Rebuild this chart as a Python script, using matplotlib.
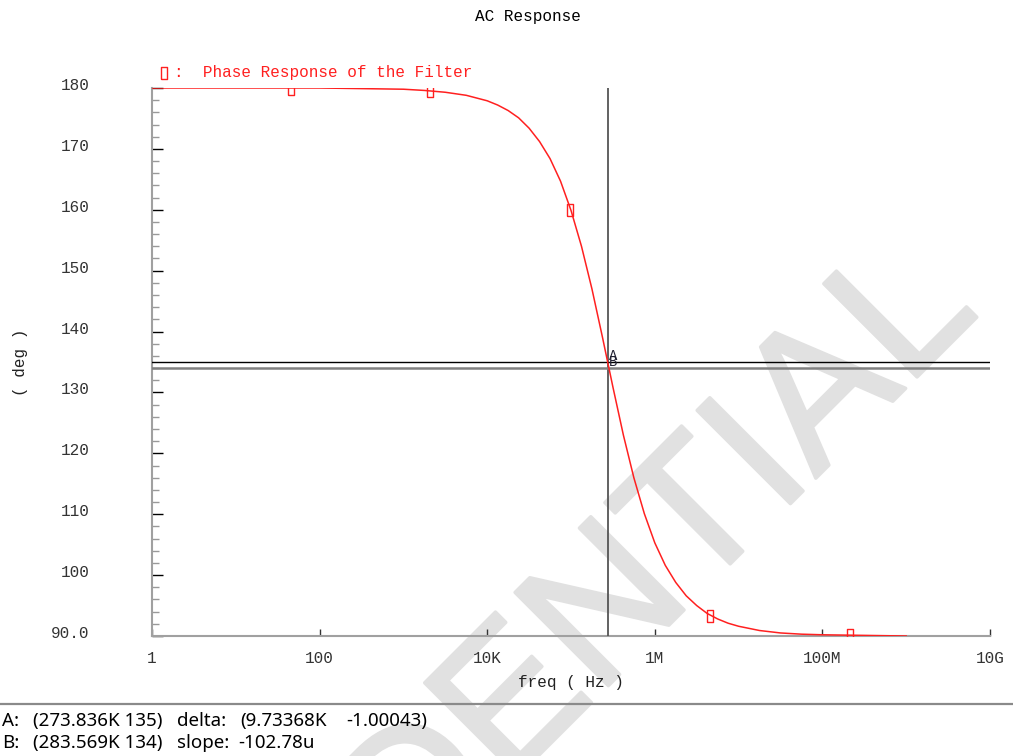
import numpy as np
import matplotlib
matplotlib.use("Agg")
import matplotlib.pyplot as plt
import matplotlib.transforms as mtransforms
import matplotlib.patheffects as pe
from matplotlib.lines import Line2D

# datos (fase del filtro en grados)
freq = [1, 10, 100, 316, 1e3, 1.778e3, 3.162e3, 5.623e3,
        1e4, 1.334e4, 1.778e4, 2.371e4, 3.162e4, 4.217e4, 5.623e4, 7.499e4,
        1e5, 1.334e5, 1.778e5, 2.371e5, 2.738e5, 3.162e5, 4.217e5, 5.623e5, 7.499e5,
        1e6, 1.334e6, 1.778e6, 2.371e6, 3.162e6, 4.217e6, 5.623e6, 7.499e6,
        1e7, 1.778e7, 3.162e7, 5.623e7, 1e8, 3.162e8, 1e9]
phase = [180.0, 180.0, 180.0, 179.9, 179.8, 179.6, 179.3, 178.8,
         177.9, 177.2, 176.3, 175.1, 173.4, 171.2, 168.4, 164.7,
         159.9, 154.0, 147.0, 139.1, 135.0, 130.9, 123.0, 116.0, 110.1,
         105.3, 101.6, 98.8, 96.6, 95.0, 93.7, 92.8, 92.1,
         91.6, 90.9, 90.5, 90.3, 90.2, 90.1, 90.0]

marker_freq = [45, 2.08e3, 9.8e4, 4.6e6, 2.14e8]
marker_phase = [179.9, 179.5, 160.0, 93.3, 90.1]

cursor_a = (273.836e3, 135.0)
cursor_b = (283.569e3, 134.0)

xticks = [1, 100, 1e4, 1e6, 1e8, 1e10]
xtick_labels = ['1', '100', '10K', '1M', '100M', '10G']
yticks = [90, 100, 110, 120, 130, 140, 150, 160, 170, 180]
ytick_labels = ['90.0', '100', '110', '120', '130', '140', '150', '160', '170', '180']

# texto de los cursores al pie
linea_a = ['A:', '(273.836K 135)', 'delta:', '(9.73368K', '-1.00043)']
linea_b = ['B:', '(283.569K 134)', 'slope:', '-102.78u']
pos_a = [2, 33, 177, 240, 346]
pos_b = [2, 33, 177, 238]

mono = 'Liberation Mono'
rojo = '#ff2020'
gris_agua = '#e1e1e1'
# marcador rectangular estrecho como en el original
rect = [(-1, -2.2), (1, -2.2), (1, 2.2), (-1, 2.2), (-1, -2.2)]

W, H = 1013, 756
fig = plt.figure(figsize=(W / 100, H / 100), dpi=100)
fig.patch.set_facecolor('white')

# marca de agua
fig.text(981 / W, 1 - 313 / H, 'CONFIDENTIAL', rotation=45, rotation_mode='anchor',
         ha='right', va='baseline', fontsize=138, color=gris_agua,
         family='Liberation Sans', zorder=-5,
         path_effects=[pe.withStroke(linewidth=2.5, foreground=gris_agua)])

ax = fig.add_axes([152 / W, 1 - 636 / H, (990 - 152) / W, (636 - 88) / H])
ax.set_facecolor('none')
ax.set_xscale('log')
ax.set_xlim(1, 1e10)
ax.set_ylim(90, 180)

ax.plot(freq, phase, color=rojo, lw=1.1, zorder=4)
ax.plot(marker_freq, marker_phase, ls='none', marker=rect, ms=8, mfc='none',
        mec=rojo, mew=1.0, zorder=5)

# cursores A y B
ax.axvline(cursor_a[0], color='#555555', lw=1.3, zorder=3)
ax.axhline(cursor_a[1], color='black', lw=1.0, zorder=3)
ax.axhline(cursor_b[1], color='#808080', lw=1.8, zorder=3)
ax.text(cursor_a[0] * 1.03, cursor_a[1] + 1.0, 'A', fontsize=10, family=mono,
        color='#223', ha='left', va='center', zorder=6)
ax.text(cursor_a[0] * 1.03, cursor_a[1], 'B', fontsize=10, family=mono,
        color='#223', ha='left', va='center', zorder=6)

for s in ['top', 'right']:
    ax.spines[s].set_visible(False)
for s in ['left', 'bottom']:
    ax.spines[s].set_color('#a0a0a0')
    ax.spines[s].set_linewidth(1.5)

ax.set_xticks(xticks)
ax.set_xticklabels(xtick_labels, family=mono, fontsize=11.5, color='#333333')
ax.xaxis.set_minor_locator(matplotlib.ticker.NullLocator())
ax.tick_params(axis='x', direction='in', length=5, width=1, color='#333333', pad=11)

ax.set_yticks(yticks)
ax.set_yticklabels(ytick_labels, family=mono, fontsize=11.5, color='#333333')
ax.set_yticks(np.arange(90, 181, 2), minor=True)
ax.tick_params(axis='y', which='major', direction='in', length=8, width=1,
               color='black', pad=45)
ax.tick_params(axis='y', which='minor', direction='in', length=5, width=1,
               color='#999999')
# etiquetas del eje y un poco por encima de su linea
desplaza = mtransforms.ScaledTranslation(0, 4 / 100, fig.dpi_scale_trans)
for lab in ax.get_yticklabels():
    lab.set_transform(lab.get_transform() + desplaza)

ax.set_xlabel('freq ( Hz )', family=mono, fontsize=11.5, color='#222222', labelpad=6)
ax.set_ylabel('( deg )', family=mono, fontsize=11.5, color='#222222')
ax.yaxis.set_label_coords(-(152 - 28) / (990 - 152), 0.5)

fig.text(528 / W, 1 - 17 / H, 'AC Response', family=mono, fontsize=11.5,
         ha='center', va='center', color='black')

# leyenda
fig.add_artist(Line2D([164 / W], [1 - 73 / H], marker=rect, ms=8, mfc='none',
                      mec=rojo, mew=1.0, ls='none'))
fig.text(174 / W, 1 - 73 / H, ':  Phase Response of the Filter', family=mono,
         fontsize=11.5, color=rojo, ha='left', va='center')

# linea separadora y texto de cursores
fig.add_artist(Line2D([0, 1], [1 - 704 / H, 1 - 704 / H], color='#8a8a8a', lw=1.6))
for txt, x in zip(linea_a, pos_a):
    fig.text(x / W, 1 - 721 / H, txt, family='Noto Sans', fontsize=13.5,
             ha='left', va='center', color='black')
for txt, x in zip(linea_b, pos_b):
    fig.text(x / W, 1 - 743 / H, txt, family='Noto Sans', fontsize=13.5,
             ha='left', va='center', color='black')

fig.savefig('out.png', dpi=100, facecolor='white')
